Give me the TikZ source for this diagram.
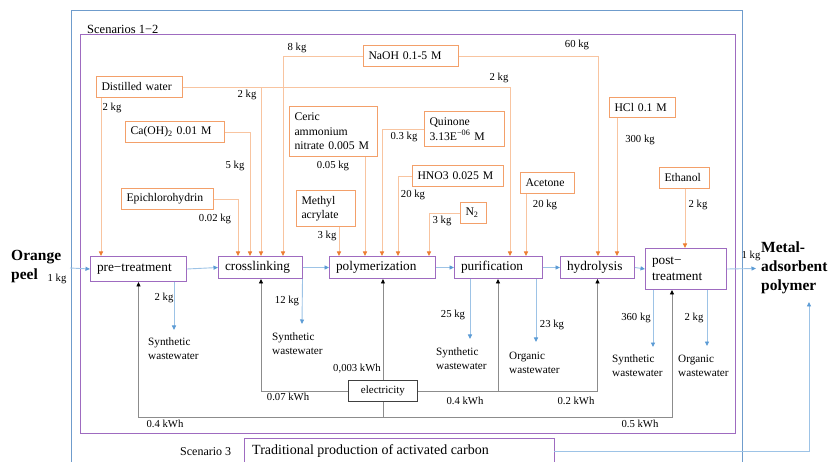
\documentclass[tikz,border=0pt]{standalone}
\usepackage{fontspec}
\setmainfont{Liberation Serif}
\usetikzlibrary{arrows.meta,calc}

\definecolor{frameblue}{HTML}{6F9CCC}
\definecolor{purp}{HTML}{9E6BC0}
\definecolor{obox}{HTML}{F3A06A}
\definecolor{oline}{HTML}{F8C4A0}
\definecolor{otip}{HTML}{ED7D31}
\definecolor{bline}{HTML}{9DC3E6}
\definecolor{btip}{HTML}{5B9BD5}
\definecolor{gline}{HTML}{8C8C8C}

\tikzset{
  inbox/.style={draw=obox, line width=1pt, anchor=north west, align=left,
    inner xsep=5pt, inner ysep=1pt, font=\fontsize{11.7}{14.5}\selectfont},
  procbox/.style={draw=purp, line width=1pt, anchor=north west, align=left,
    inner xsep=6.5pt, inner ysep=1pt, font=\fontsize{13.3}{16}\selectfont},
  elbox/.style={draw=black!75, line width=0.9pt, anchor=north west,
    inner sep=1pt, font=\fontsize{11}{12}\selectfont},
  qty/.style={font=\fontsize{10.7}{12}\selectfont, inner sep=0pt},
  outtext/.style={font=\fontsize{11.2}{14}\selectfont, align=left,
    anchor=north west, inner sep=0pt},
  bigbold/.style={font=\fontsize{15.5}{19}\selectfont\bfseries, align=left,
    anchor=north west, inner sep=0pt},
  ofeed/.style={draw=oline, line width=0.9pt,
    -{Triangle[length=4.5pt,width=4pt,color=otip]}},
  bflow/.style={draw=bline, line width=0.9pt,
    -{Triangle[length=4.5pt,width=4pt,color=btip]}},
  efeed/.style={draw=gline, line width=0.9pt,
    -{Triangle[length=4.5pt,width=4pt,color=black]}},
}

\begin{document}
\begin{tikzpicture}[x=1pt,y=-1pt]
\useasboundingbox (0,0) rectangle (830,462);

% system boundaries
\draw[frameblue, line width=1pt] (71,475) -- (71,11) -- (742,11) -- (742,475);
\draw[purp, line width=1pt] (80,35) rectangle (735,433);
\node[anchor=west, inner sep=0pt, font=\fontsize{12.5}{14}\selectfont] (scen12) at (87,29) {Scenarios 1−2};

% process chain
\node[procbox, text width=83pt, minimum height=25pt] (pre) at (90,256) {pre−treatment};
\node[procbox, text width=71pt, minimum height=22pt] (cross) at (218,256) {crosslinking};
\node[procbox, text width=93pt, minimum height=22pt] (poly) at (329,256) {polymerization};
\node[procbox, text width=75pt, minimum height=22pt] (pur) at (454,256) {purification};
\node[procbox, text width=61pt, minimum height=22pt] (hydro) at (560,256) {hydrolysis};
\node[procbox, text width=68pt, minimum height=41pt] (post) at (645,248) {post−\\treatment};

% chemical inputs
\node[inbox, text width=76pt, minimum height=21pt] (dw) at (96,76) {Distilled water};
\node[inbox, text width=89pt, minimum height=21pt] (caoh) at (125,121) {Ca(OH)\textsubscript{2} 0.01 M};
\node[inbox, text width=82pt, minimum height=21pt] (epi) at (121,188) {Epichlorohydrin};
\node[inbox, text width=85pt, minimum height=21pt] (naoh) at (363,45) {NaOH 0.1-5 M};
\node[inbox, text width=78pt, minimum height=50pt] (ceric) at (289,106) {Ceric\\ammonium\\nitrate 0.005 M};
\node[inbox, text width=49pt, minimum height=36pt] (methyl) at (296,190) {Methyl\\acrylate};
\node[inbox, text width=70pt, minimum height=35pt] (quin) at (424,111) {Quinone\\3.13E\textsuperscript{−06} M};
\node[inbox, text width=81pt, minimum height=21pt] (hno) at (412,165) {HNO3 0.025 M};
\node[inbox, text width=16pt, minimum height=21pt] (ntwo) at (460,202) {N\textsubscript{2}};
\node[inbox, text width=44pt, minimum height=21pt] (acet) at (520,172) {Acetone};
\node[inbox, text width=56pt, minimum height=20pt] (hcl) at (609,97) {HCl 0.1 M};
\node[inbox, text width=40pt, minimum height=21pt] (etoh) at (659,167) {Ethanol};

% feeds into the process steps
\draw[ofeed] ([xshift=5pt]dw.south west) -- ([xshift=11pt]pre.north west);
\draw[ofeed] (dw.east) -| ([xshift=43pt]cross.north west);
\draw[ofeed] (dw.east) -| ([xshift=56pt]pur.north west);
\draw[ofeed] (caoh.east) -| ([xshift=32pt]cross.north west);
\draw[ofeed] (epi.east) -| ([xshift=20pt]cross.north west);
\draw[ofeed] (naoh.west) -| ([xshift=65pt]cross.north west);
\draw[ofeed] (naoh.east) -| ([xshift=38pt]hydro.north west);
\draw[ofeed] ([xshift=76pt]ceric.south west) -- ([xshift=36pt]poly.north west);
\draw[ofeed] ([xshift=43pt]methyl.south west) -- ([xshift=10pt]poly.north west);
\draw[ofeed] (quin.west) -| ([xshift=53pt]poly.north west);
\draw[ofeed] (hno.west) -| ([xshift=69pt]poly.north west);
\draw[ofeed] (ntwo.west) -| ([xshift=100pt]poly.north west);
\draw[ofeed] ([xshift=6pt]acet.south west) -- ([xshift=72pt]pur.north west);
\draw[ofeed] ([xshift=8pt]hcl.south west) -- ([xshift=57pt]hydro.north west);
\draw[ofeed] ([xshift=26pt]etoh.south west) -- ([xshift=40pt]post.north west);

% feed quantities
\node[qty] (q8) at (297,48) {8 kg};
\node[qty] (q60) at (577,45) {60 kg};
\node[qty] (qdw1) at (112,108) {2 kg};
\node[qty] (qdw2) at (247,95) {2 kg};
\node[qty] (qdw3) at (499,78) {2 kg};
\node[qty] (q5) at (235,166) {5 kg};
\node[qty] (q002) at (215,219) {0.02 kg};
\node[qty] (q005) at (333,166) {0.05 kg};
\node[qty] (q3a) at (327,236) {3 kg};
\node[qty] (q03) at (404,137) {0.3 kg};
\node[qty] (q20a) at (413,195) {20 kg};
\node[qty] (q3b) at (442,221) {3 kg};
\node[qty] (q20b) at (545,205) {20 kg};
\node[qty] (q300) at (640,140) {300 kg};
\node[qty] (q2e) at (698,205) {2 kg};

% raw material and product
\node[bigbold] (peel) at (11,250) {Orange\\peel};
\node[qty] (q1in) at (57,279) {1 kg};
\coordinate (peelout) at (70,268);
\draw[bflow] (peelout) -- (pre.west);
\draw[bflow] (pre.east) -- (cross.west);
\draw[bflow] (cross.east) -- (poly.west);
\draw[bflow] (poly.east) -- (pur.west);
\draw[bflow] (pur.east) -- (hydro.west);
\draw[bflow] (hydro.east) -- (post.west);
\coordinate (prodin) at (756,268.5);
\draw[bflow] (post.east) -- (prodin);
\node[qty] (q1out) at (751,256) {1 kg};
\node[bigbold] (prod) at (761,242) {Metal-\\adsorbent\\polymer};

% wastewater streams
\node[outtext] (ww1) at (148,338) {Synthetic\\wastewater};
\node[outtext] (ww2) at (272,333) {Synthetic\\wastewater};
\node[outtext] (ww3) at (436,348) {Synthetic\\wastewater};
\node[outtext] (ww4) at (509,352) {Organic\\wastewater};
\node[outtext] (ww5) at (612,355) {Synthetic\\wastewater};
\node[outtext] (ww6) at (678,355) {Organic\\wastewater};
\coordinate (ww1in) at (174,330);
\coordinate (ww2in) at (302,324);
\coordinate (ww3in) at (470,339);
\coordinate (ww4in) at (536,342);
\coordinate (ww5in) at (653,347);
\coordinate (ww6in) at (707,346);
\draw[bflow] ([xshift=84pt]pre.south west) -- (ww1in);
\draw[bflow] ([xshift=-0.5pt]cross.south east) -- (ww2in);
\draw[bflow] ([xshift=16pt]pur.south west) -- (ww3in);
\draw[bflow] ([xshift=82pt]pur.south west) -- (ww4in);
\draw[bflow] ([xshift=8pt]post.south west) -- (ww5in);
\draw[bflow] ([xshift=62pt]post.south west) -- (ww6in);
\node[qty] (qw1) at (164,298) {2 kg};
\node[qty] (qw2) at (287,301) {12 kg};
\node[qty] (qw3) at (453,315) {25 kg};
\node[qty] (qw4) at (552,325) {23 kg};
\node[qty] (qw5) at (636,318) {360 kg};
\node[qty] (qw6) at (694,318) {2 kg};

% electricity supply
\node[elbox, minimum width=69pt, minimum height=21pt] (el) at (348,380) {electricity};
\draw[efeed] (el.west) -| ([xshift=43pt]cross.south west);
\draw[efeed] (el.north) -- (el.north |- poly.south);
\draw[efeed] (el.east) -| ([xshift=44pt]pur.south west);
\draw[efeed] (el.east) -| (hydro.south);
\draw[efeed] (el.south) -- ++(0,16) -| (pre.south);
\draw[efeed] (el.south) -- ++(0,16) -| ([xshift=27pt]post.south west);
\node[qty] (e1) at (288,397) {0.07 kWh};
\node[qty] (e2) at (357,369) {0,003 kWh};
\node[qty] (e3) at (465,401) {0.4 kWh};
\node[qty] (e4) at (576,401) {0.2 kWh};
\node[qty] (e5) at (165,424) {0.4 kWh};
\node[qty] (e6) at (640,424) {0.5 kWh};

% alternative route
\node[anchor=west, inner sep=0pt, font=\fontsize{12}{14}\selectfont] (scen3) at (180,452) {Scenario 3};
\draw[purp, line width=1pt] (244,475) |- (554,438) -- (554,475);
\node[anchor=west, inner sep=0pt, font=\fontsize{14}{16}\selectfont] (trad) at (252,451) {Traditional production of activated carbon};
\coordinate (tradout) at (554,451);
\coordinate (prodbelow) at (809,302);
\draw[bflow] (tradout) -| (prodbelow);
\end{tikzpicture}
\end{document}
